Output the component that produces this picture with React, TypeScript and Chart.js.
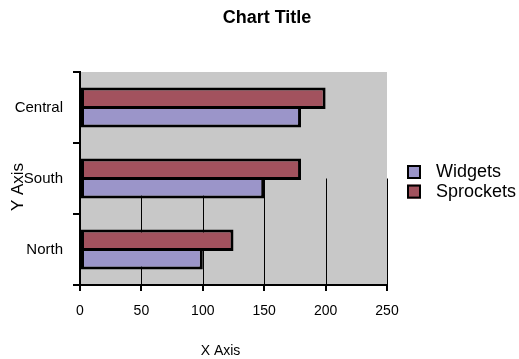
import React, { useEffect, useRef } from 'react';
import { Chart, registerables } from 'chart.js';

Chart.register(...registerables);

// ---- data ----
const categories = ['North', 'South', 'Central'];
const seriesNames = ['Widgets', 'Sprockets'];
const widgetsValues = [100, 150, 180];
const sprocketsValues = [125, 180, 200];
const xTickValues = [0, 50, 100, 150, 200, 250];
const chartTitle = 'Chart Title';
const xAxisTitle = 'X Axis';
const yAxisTitle = 'Y Axis';

const FONT = "'Liberation Sans', Arial, Helvetica, sans-serif";
const WIDGET_COLOR = '#9b95c9';
const SPROCKET_COLOR = '#a2525e';
const PLOT_BG = '#c8c8c8';

const decorPlugin = {
  id: 'decor',
  beforeDraw(chart: any) {
    const { ctx, chartArea: a } = chart;
    ctx.save();
    ctx.fillStyle = '#ffffff';
    ctx.fillRect(0, 0, chart.width, chart.height);
    ctx.fillStyle = PLOT_BG;
    ctx.fillRect(a.left, a.top, a.right - a.left, a.bottom - a.top);
    ctx.restore();
  },
  beforeDatasetsDraw(chart: any) {
    const { ctx, chartArea: a, scales } = chart;
    const xs = scales.x;
    const ys = scales.y;
    const yStart = ys.getPixelForValue(1);
    ctx.save();
    ctx.strokeStyle = '#000';
    ctx.lineWidth = 1;
    xTickValues.slice(1).forEach((v) => {
      const px = Math.round(xs.getPixelForValue(v)) + 0.5;
      ctx.beginPath();
      ctx.moveTo(px, yStart);
      ctx.lineTo(px, a.bottom);
      ctx.stroke();
    });
    ctx.restore();
  },
  afterDraw(chart: any) {
    const { ctx } = chart;
    ctx.save();
    ctx.fillStyle = '#000';
    ctx.textAlign = 'center';
    ctx.textBaseline = 'middle';
    // title
    ctx.font = `bold 18px ${FONT}`;
    ctx.fillText(chartTitle, 267, 18);
    // x axis title
    ctx.font = `14px ${FONT}`;
    ctx.fillText(xAxisTitle, 220.5, 351);
    // y axis title
    ctx.save();
    ctx.translate(18, 187);
    ctx.rotate(-Math.PI / 2);
    ctx.font = `17px ${FONT}`;
    ctx.fillText(yAxisTitle, 0, 0);
    ctx.restore();
    // legend (Widgets first, then Sprockets)
    const order = [1, 0];
    const box = 14;
    order.forEach((di, i) => {
      const ds = chart.data.datasets[di];
      const cy = 172 + i * 19.6;
      ctx.fillStyle = ds.backgroundColor;
      ctx.fillRect(407, cy - box / 2, box, box);
      ctx.strokeStyle = '#000';
      ctx.lineWidth = 2;
      ctx.strokeRect(408, cy - box / 2 + 1, box - 2, box - 2);
      ctx.fillStyle = '#000';
      ctx.textAlign = 'left';
      ctx.font = `18px ${FONT}`;
      ctx.fillText(ds.label, 436, cy);
    });
    ctx.restore();
  },
};

export default function App() {
  const canvasRef = useRef<HTMLCanvasElement | null>(null);

  useEffect(() => {
    document.body.style.margin = '0';
    const canvas = canvasRef.current;
    if (!canvas) return;
    const barOpts = {
      borderColor: '#000',
      borderWidth: 3,
      borderSkipped: false,
      barPercentage: 1.162,
      categoryPercentage: 0.521,
    };
    const chart = new Chart(canvas, {
      type: 'bar',
      data: {
        labels: categories,
        datasets: [
          { label: seriesNames[1], data: sprocketsValues, backgroundColor: SPROCKET_COLOR, ...barOpts },
          { label: seriesNames[0], data: widgetsValues, backgroundColor: WIDGET_COLOR, ...barOpts },
        ],
      },
      options: {
        indexAxis: 'y',
        responsive: false,
        animation: false,
        devicePixelRatio: 1,
        layout: { padding: { top: 72, right: 132, left: 0, bottom: 0 } },
        plugins: {
          legend: { display: false },
          title: { display: false },
          tooltip: { enabled: false },
        },
        scales: {
          x: {
            type: 'linear',
            min: 0,
            max: 250,
            afterFit: (s: any) => { s.height = 74; },
            afterBuildTicks: (s: any) => { s.ticks = xTickValues.map((v) => ({ value: v })); },
            ticks: { color: '#000', font: { family: FONT, size: 14 }, padding: 12, maxRotation: 0 },
            grid: { drawOnChartArea: false, drawTicks: true, tickLength: 6, color: '#000', lineWidth: 2 },
            border: { display: true, color: '#000', width: 2 },
          },
          y: {
            type: 'category',
            reverse: true,
            afterFit: (s: any) => { s.width = 80; },
            ticks: { color: '#000', font: { family: FONT, size: 15 }, padding: 10 },
            grid: { drawOnChartArea: false, drawTicks: true, tickLength: 7, color: '#000', lineWidth: 2 },
            border: { display: true, color: '#000', width: 2 },
          },
        },
      },
      plugins: [decorPlugin],
    } as any);
    return () => chart.destroy();
  }, []);

  return (
    <div style={{ position: 'fixed', left: 0, top: 0, width: 519, height: 359, background: '#fff' }}>
      <canvas ref={canvasRef} width={519} height={359} style={{ display: 'block', width: 519, height: 359 }} />
    </div>
  );
}
